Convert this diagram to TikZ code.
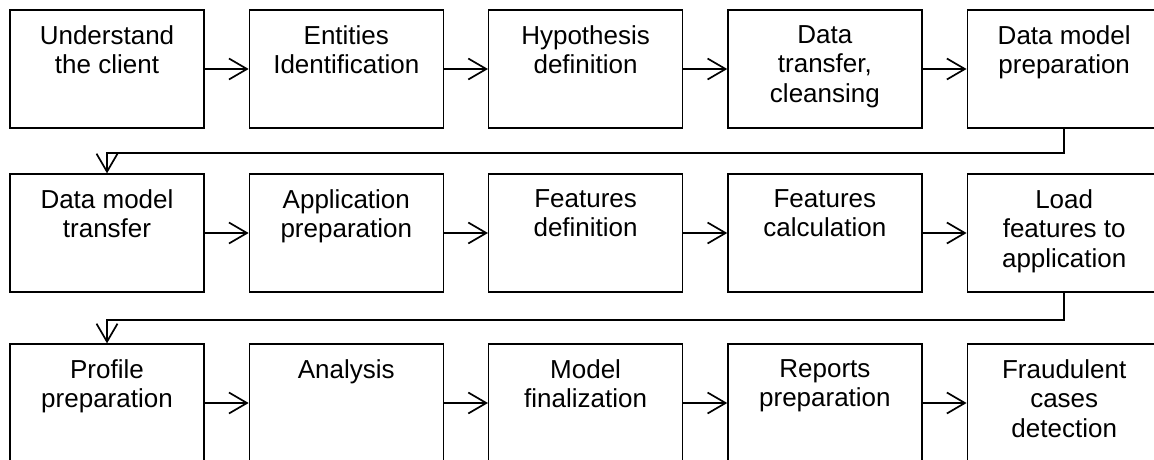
\documentclass[tikz,border=0pt]{standalone}
\usepackage{fontspec}
\setmainfont{Liberation Sans}
\usetikzlibrary{arrows.meta}
\tikzset{
  box/.style={draw, line width=1.3pt, minimum width=194pt, minimum height=118pt, inner sep=0pt},
  lbl/.style={anchor=north, align=center, inner sep=0pt, yshift=-16pt, font=\fontsize{26}{29.5}\selectfont},
  link/.style={line width=1.7pt, -{Straight Barb[length=18pt, width=21pt]}}
}
\begin{document}
\begin{tikzpicture}[x=1pt, y=-1pt]
 \useasboundingbox (0,0) rectangle (1154,459);

 \node[box, label={[lbl]north:Understand\\the client}] (b1) at (107,69) {};
 \node[box, label={[lbl]north:Entities\\Identification}] (b2) at (346.3,69) {};
 \node[box, label={[lbl]north:Hypothesis\\definition}] (b3) at (585.6,69) {};
 \node[box, label={[lbl]north:Data\\transfer,\\cleansing}] (b4) at (824.9,69) {};
 \node[box, label={[lbl]north:Data model\\preparation}] (b5) at (1064.2,69) {};

 \node[box, label={[lbl]north:Data model\\transfer}] (b6) at (107,233) {};
 \node[box, label={[lbl]north:Application\\preparation}] (b7) at (346.3,233) {};
 \node[box, label={[lbl]north:Features\\definition}] (b8) at (585.6,233) {};
 \node[box, label={[lbl]north:Features\\calculation}] (b9) at (824.9,233) {};
 \node[box, label={[lbl]north:Load\\features to\\application}] (b10) at (1064.2,233) {};

 \node[box, label={[lbl]north:Profile\\preparation}] (b11) at (107,403) {};
 \node[box, label={[lbl]north:Analysis}] (b12) at (346.3,403) {};
 \node[box, label={[lbl]north:Model\\finalization}] (b13) at (585.6,403) {};
 \node[box, label={[lbl]north:Reports\\preparation}] (b14) at (824.9,403) {};
 \node[box, label={[lbl]north:Fraudulent\\cases\\detection}] (b15) at (1064.2,403) {};

 \path [link] (b1) edge (b2);
 \path [link] (b2) edge (b3);
 \path [link] (b3) edge (b4);
 \path [link] (b4) edge (b5);
 \draw [link] (b5.south) -- ++(0,24) -| (b6.north);

 \path [link] (b6) edge (b7);
 \path [link] (b7) edge (b8);
 \path [link] (b8) edge (b9);
 \path [link] (b9) edge (b10);
 \draw [link] (b10.south) -- ++(0,27) -| (b11.north);

 \path [link] (b11) edge (b12);
 \path [link] (b12) edge (b13);
 \path [link] (b13) edge (b14);
 \path [link] (b14) edge (b15);
\end{tikzpicture}
\end{document}
